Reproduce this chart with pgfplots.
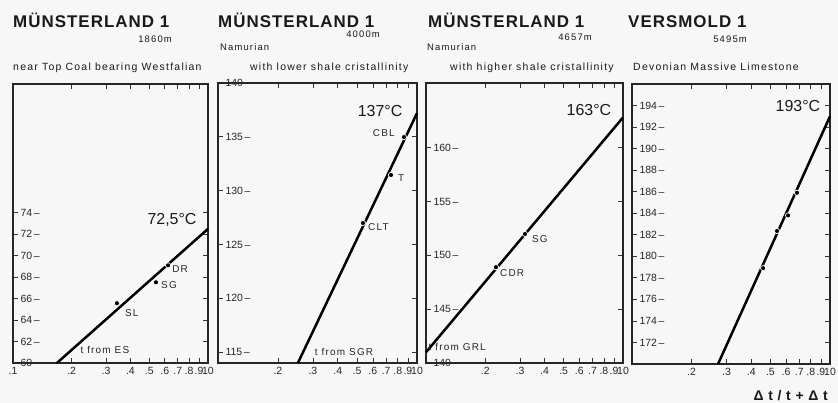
\documentclass[border=0pt]{standalone}
\usepackage{pgfplots}
\pgfplotsset{compat=1.18}
\usepackage{fontspec}
\setmainfont{Liberation Sans}
\newfontfamily\spf[LetterSpace=12]{Liberation Sans}
\newfontfamily\hdf[LetterSpace=6]{Liberation Sans}
\pgfplotsset{
  mypanel/.style={
    xmin=0.1, xmax=1, scale only axis, height=280bp,
    anchor=south west,
    axis line style={line width=1.3bp, black!85},
    tick align=inside, major tick length=5bp,
    xtick={0.1,0.2,0.3,0.4,0.5,0.6,0.7,0.8,0.9,1},
    minor xtick={},
    xtick pos=both, ytick pos=both,
    tick style={black!80, line width=0.7bp},
    ticklabel style={font=\fontsize{10.5}{11}\selectfont, text=black!85},
    yticklabel style={anchor=west, xshift=4bp},
    yticklabel={\pgfmathprintnumber[assume math mode=true]{\tick}\,--},
    xticklabel style={yshift=-1bp},
    clip=false,
  },
  trend/.style={black, line width=2.5bp, no marks},
  pts/.style={only marks, mark=*, mark size=2.6bp, mark options={fill=black, draw=white, line width=0.7bp}},
}
\tikzset{
  lab/.style={font=\spf\fontsize{10}{11}\selectfont, text=black!85, inner sep=0pt},
  tlab/.style={font=\fontsize{16}{18}\selectfont, text=black!90, inner sep=0pt},
}
\begin{document}
\begin{tikzpicture}
\fill[black!3] (0,0) rectangle (838bp,403bp);
\path[use as bounding box] (0,0) rectangle (838bp,403bp);
% Panel 1
\begin{semilogxaxis}[mypanel, at={(13bp,40bp)}, width=195bp, height=279bp, ymin=60, ymax=86,
  ytick={60,62,...,74}, xticklabels={.1,.2,.3,.4,.5,.6,.7,.8,.9,10}]
\addplot[trend] coordinates {(0.168,60) (1,72.5)};
\addplot[pts] coordinates {(0.341,65.57) (0.541,67.52) (0.624,69.1)};
\node[lab, anchor=west] at (axis cs:0.655,68.75) {DR};
\node[lab, anchor=west] at (axis cs:0.574,67.24) {SG};
\node[lab, anchor=west] at (axis cs:0.375,64.64) {SL};
\node[tlab] at (axis cs:0.654,73.3) {72,5°C};
\node[lab] at (axis cs:0.296,61.2) {t from ES};
\end{semilogxaxis}
% Panel 2
\begin{semilogxaxis}[mypanel, at={(218bp,40bp)}, width=199bp, ymin=114, ymax=140,
  ytick={115,120,...,140}, xticklabels={{},.2,.3,.4,.5,.6,.7,.8,.9,10}]
\addplot[trend] coordinates {(0.252,114) (1,137.2)};
\addplot[pts] coordinates {(0.535,127.0) (0.74,131.46) (0.86,134.98)};
\node[lab, anchor=east] at (axis cs:0.775,135.35) {CBL};
\node[lab, anchor=west] at (axis cs:0.803,131.2) {T};
\node[lab, anchor=west] at (axis cs:0.567,126.6) {CLT};
\node[tlab] at (axis cs:0.652,137.4) {137°C};
\node[lab] at (axis cs:0.43,115.0) {t from SGR};
\end{semilogxaxis}
% Panel 3
\begin{semilogxaxis}[mypanel, at={(426bp,40bp)}, width=197bp, ymin=140, ymax=166,
  ytick={140,145,...,160}, xticklabels={{},.2,.3,.4,.5,.6,.7,.8,.9,10}]
\addplot[trend] coordinates {(0.1,141) (1,162.8)};
\addplot[pts] coordinates {(0.2266,148.9) (0.318,151.98)};
\node[lab, anchor=west] at (axis cs:0.345,151.5) {SG};
\node[lab, anchor=west] at (axis cs:0.2375,148.36) {CDR};
\node[tlab] at (axis cs:0.672,163.5) {163°C};
\node[lab] at (axis cs:0.144,141.5) {t from GRL};
\end{semilogxaxis}
% Panel 4
\begin{semilogxaxis}[mypanel, at={(632bp,39bp)}, width=198bp, ymin=170, ymax=196,
  ytick={172,174,...,194}, xticklabels={{},.2,.3,.4,.5,.6,.7,.8,.9,10}]
\addplot[trend] coordinates {(0.272,170) (1,193)};
\addplot[pts] coordinates {(0.459,178.9) (0.540,182.35) (0.614,183.8) (0.681,185.9)};
\node[tlab] at (axis cs:0.689,194.0) {193°C};
\end{semilogxaxis}
% Headings
\begin{scope}[every node/.style={inner sep=0pt, text=black!90}]
\node[anchor=base west, font=\hdf\bfseries\fontsize{17}{18}\selectfont] at (13bp,375bp) {MÜNSTERLAND 1};
\node[anchor=base west, font=\hdf\bfseries\fontsize{17}{18}\selectfont] at (218bp,375bp) {MÜNSTERLAND 1};
\node[anchor=base west, font=\hdf\bfseries\fontsize{17}{18}\selectfont] at (428bp,375bp) {MÜNSTERLAND 1};
\node[anchor=base west, font=\hdf\bfseries\fontsize{17}{18}\selectfont] at (628bp,375bp) {VERSMOLD 1};
\node[anchor=base east, font=\spf\fontsize{9.5}{10}\selectfont] at (172bp,360bp) {1860m};
\node[anchor=base east, font=\spf\fontsize{9.5}{10}\selectfont] at (380bp,365bp) {4000m};
\node[anchor=base east, font=\spf\fontsize{9.5}{10}\selectfont] at (592bp,362bp) {4657m};
\node[anchor=base east, font=\spf\fontsize{9.5}{10}\selectfont] at (747bp,360bp) {5495m};
\node[anchor=base west, font=\spf\fontsize{9.5}{10}\selectfont] at (220bp,352bp) {Namurian};
\node[anchor=base west, font=\spf\fontsize{9.5}{10}\selectfont] at (427bp,352bp) {Namurian};
\node[anchor=base west, font=\spf\fontsize{10.5}{11}\selectfont] at (13bp,332bp) {near Top Coal bearing Westfalian};
\node[anchor=base west, font=\spf\fontsize{10.5}{11}\selectfont] at (250bp,332bp) {with lower shale cristallinity};
\node[anchor=base west, font=\spf\fontsize{10.5}{11}\selectfont] at (450bp,332bp) {with higher shale cristallinity};
\node[anchor=base west, font=\spf\fontsize{10.5}{11}\selectfont] at (633bp,332bp) {Devonian Massive Limestone};
\node[anchor=base east, font=\hdf\bfseries\fontsize{14}{15}\selectfont] at (828bp,3bp) {Δ t / t + Δ t};
\end{scope}
\end{tikzpicture}
\end{document}
